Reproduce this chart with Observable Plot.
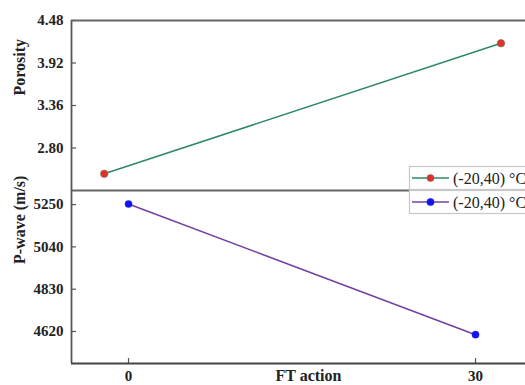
<!DOCTYPE html>
<html><head><meta charset="utf-8">
<script src="https://cdn.jsdelivr.net/npm/d3@7"></script>
<script src="https://cdn.jsdelivr.net/npm/@observablehq/plot@0.6"></script>
<style>
body{margin:0;background:#fff;}
#wrap{position:relative;width:525px;height:385px;overflow:hidden;background:#fff;}
#wrap svg{position:absolute;left:0;overflow:visible;}
#wrap svg text{font-family:'Liberation Serif','Times New Roman',serif !important;}
#wrap svg.panel text{font-weight:bold !important;}
</style></head>
<body><div id="wrap"></div>
<script>
const ftAction = [0, 30];
const topX = [-2.1, 32.2];
const porosity = [2.46, 4.18];
const pwave = [5253, 4604];
const porosityTicks = [2.80, 3.36, 3.92, 4.48];
const pwaveTicks = [4620, 4830, 5040, 5250];
const seriesLabels = ["(-20,40) °C", "(-20,40) °C"];
const xDomain = [-4.93, 34.32];
const porDomain = [2.24, 4.48];
const pwDomain = [4461, 5320];

const font = "'Liberation Serif', 'Times New Roman', serif";
const wrap = document.getElementById("wrap");
const axisColor = "#555";

const topData = topX.map((x, i) => ({x, y: porosity[i]}));
const botData = ftAction.map((x, i) => ({x, y: pwave[i]}));

const topPlot = Plot.plot({
  className: "panel",
  width: 525, height: 191, marginTop: 20, marginBottom: 1, marginLeft: 71, marginRight: 0,
  style: {fontFamily: font, fontSize: "15px", fontWeight: "bold", color: "#222", background: "transparent"},
  x: {domain: xDomain, axis: null},
  y: {domain: porDomain, label: null},
  marks: [
    Plot.axisY(porosityTicks, {tickSize: 5, dx: 5, tickFormat: () => "", stroke: axisColor, strokeWidth: 1.2}),
    Plot.axisY(porosityTicks, {tickSize: 0, tickPadding: 8, tickFormat: d => d.toFixed(2), fontFamily: font, fontWeight: "bold", fontSize: 15, fill: "#222"}),
    Plot.ruleX([xDomain[0]], {stroke: axisColor, strokeWidth: 1.8}),
    Plot.ruleY([porDomain[1]], {stroke: "#666", strokeWidth: 1.8}),
    Plot.ruleY([porDomain[0]], {stroke: "#666", strokeWidth: 1.8}),
    Plot.line(topData, {x: "x", y: "y", stroke: "#2e8a62", strokeWidth: 1.6}),
    Plot.dot(topData, {x: "x", y: "y", r: 3.8, fill: "#e2302a", stroke: "#7a7a6a", strokeWidth: 0.6}),
    Plot.text(["Porosity"], {frameAnchor: "left", dx: -52, dy: -10, rotate: -90, fontFamily: font, fontSize: 16, fontWeight: "bold", fill: "#222"})
  ]
});
topPlot.style.top = "0px";
wrap.appendChild(topPlot);

const botPlot = Plot.plot({
  className: "panel",
  width: 525, height: 195, marginTop: 0, marginBottom: 22, marginLeft: 71, marginRight: 0,
  style: {fontFamily: font, fontSize: "15px", fontWeight: "bold", color: "#222", background: "transparent"},
  x: {domain: xDomain, label: null},
  y: {domain: pwDomain, label: null},
  marks: [
    Plot.axisY(pwaveTicks, {tickSize: 5, dx: 5, tickFormat: () => "", stroke: axisColor, strokeWidth: 1.2}),
    Plot.axisY(pwaveTicks, {tickSize: 0, tickPadding: 8, fontFamily: font, fontWeight: "bold", fontSize: 15, fill: "#222", tickFormat: d => String(d)}),
    Plot.axisX(ftAction, {tickSize: 5, dy: -5, tickFormat: () => "", stroke: axisColor, strokeWidth: 1.2}),
    Plot.axisX(ftAction, {tickSize: 0, tickPadding: 7, fontFamily: font, fontWeight: "bold", fontSize: 15, fill: "#222", tickFormat: d => String(d)}),
    Plot.ruleX([xDomain[0]], {stroke: axisColor, strokeWidth: 1.8}),
    Plot.ruleY([pwDomain[0]], {stroke: "#444", strokeWidth: 1.8}),
    Plot.line(botData, {x: "x", y: "y", stroke: "#7440a0", strokeWidth: 1.6}),
    Plot.dot(botData, {x: "x", y: "y", r: 3.6, fill: "#1414f0", stroke: "#1414f0", strokeWidth: 0.4}),
    Plot.text(["P-wave (m/s)"], {frameAnchor: "left", dx: -52, dy: -13, rotate: -90, fontFamily: font, fontSize: 16, fontWeight: "bold", fill: "#222"}),
    Plot.text(["FT action"], {frameAnchor: "bottom", dx: 10, dy: 17, fontFamily: font, fontSize: 16, fontWeight: "bold", fill: "#222"})
  ]
});
botPlot.style.top = "190px";
wrap.appendChild(botPlot);

// legend
const legColors = [["#2e8a62", "#e2302a", "#7a7a6a"], ["#7440a0", "#1414f0", "#1414f0"]];
const ns = "http://www.w3.org/2000/svg";
const leg = document.createElementNS(ns, "svg");
leg.setAttribute("width", 130); leg.setAttribute("height", 50);
leg.style.left = "408px"; leg.style.top = "165px";
seriesLabels.forEach((lab, i) => {
  const y0 = 1 + i * 24;
  const r = document.createElementNS(ns, "rect");
  r.setAttribute("x", 1.5); r.setAttribute("y", y0 + 0.5); r.setAttribute("width", 140); r.setAttribute("height", 23);
  r.setAttribute("fill", "#fff"); r.setAttribute("stroke", "#c8c8c8"); r.setAttribute("stroke-width", 1.2);
  leg.appendChild(r);
  const cy = y0 + 12;
  const l = document.createElementNS(ns, "line");
  l.setAttribute("x1", 4); l.setAttribute("x2", 41); l.setAttribute("y1", cy); l.setAttribute("y2", cy);
  l.setAttribute("stroke", legColors[i][0]); l.setAttribute("stroke-width", 1.6);
  leg.appendChild(l);
  const c = document.createElementNS(ns, "circle");
  c.setAttribute("cx", 22.5); c.setAttribute("cy", cy); c.setAttribute("r", 3.6);
  c.setAttribute("fill", legColors[i][1]); c.setAttribute("stroke", legColors[i][2]); c.setAttribute("stroke-width", 0.6);
  leg.appendChild(c);
  const t = document.createElementNS(ns, "text");
  t.setAttribute("x", 45); t.setAttribute("y", cy); t.setAttribute("dy", "0.35em");
  t.setAttribute("font-size", 16); t.setAttribute("fill", "#222");
  t.textContent = lab;
  leg.appendChild(t);
});
wrap.appendChild(leg);
</script></body></html>
